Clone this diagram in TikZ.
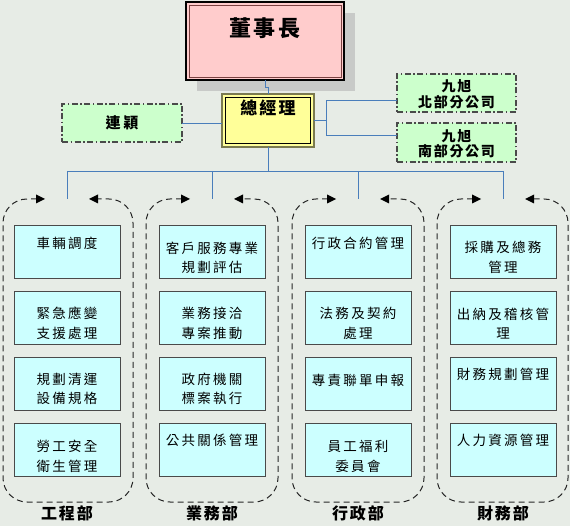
\documentclass[tikz,border=0pt]{standalone}
\usepackage{fontspec}
\newfontfamily\cjk[LetterSpace=17]{Noto Sans CJK TC}
\newfontfamily\cjkt[LetterSpace=12]{Noto Sans CJK TC}
\usetikzlibrary{arrows.meta}
\definecolor{bg}{HTML}{E7ECE6}
\definecolor{pinkfill}{HTML}{FFCCCC}
\definecolor{yellowfill}{HTML}{FFFF99}
\definecolor{greenfill}{HTML}{CCFFCC}
\definecolor{cyanfill}{HTML}{CCFFFF}
\definecolor{boxline}{HTML}{4A4A4A}
\definecolor{conn}{HTML}{4A7EBB}
\definecolor{shadowgray}{HTML}{C8CAC8}
\definecolor{maroon}{HTML}{7A4040}
\definecolor{olive}{HTML}{7A7A50}
\newcommand\ubox[4]{%
  \node[unit, anchor=north west] (#1) at #2 {};
  \node[utext] (#1t) at ([yshift=#3]#1.center) {#4};
}
\begin{document}
\begin{tikzpicture}[x=1pt,y=-1pt,
  unit/.style={draw=boxline, fill=cyanfill, line width=0.9pt, minimum width=106pt, minimum height=53pt, inner sep=0pt, outer sep=0pt},
  utext/.style={font=\fontsize{13.5}{19.5}\selectfont\cjk, align=center, inner sep=0pt},
  greenbox/.style={draw=boxline, fill=greenfill, line width=1.1pt, dash pattern=on 6pt off 2.5pt on 1.5pt off 2.5pt, inner sep=0pt, outer sep=0pt},
  conn/.style={draw=conn, line width=0.9pt},
  deptline/.style={draw=black!85, line width=1pt, dash pattern=on 6pt off 4pt, rounded corners=24pt},
  tip/.style={fill=black, draw=none},
  deptlabel/.style={font=\fontsize{16}{18}\selectfont\cjkt\bfseries, inner sep=0pt}
]
\fill[bg] (0,0) rectangle (570,526);
\useasboundingbox (0,0) rectangle (570,526);

% chairman
\fill[shadowgray] (197,13) rectangle (355,91);
\node[draw=black, fill=pinkfill, line width=1.5pt, minimum width=158pt, minimum height=78pt, anchor=north west, inner sep=0pt, outer sep=0pt] (chair) at (186,2) {};
\draw[maroon, line width=0.9pt] ([shift={(3pt,-3pt)}]chair.north west) rectangle ([shift={(-3pt,3pt)}]chair.south east);
\node[font=\fontsize{22}{24}\selectfont\cjkt\bfseries, inner sep=0pt] (chairt) at ([yshift=-26pt]chair.north) {董事長};

% general manager
\node[draw=olive, fill=yellowfill, line width=1.8pt, minimum width=92pt, minimum height=53pt, anchor=north west, inner sep=0pt, outer sep=0pt] (gm) at (222,94) {};
\draw[black, line width=0.9pt] ([shift={(3.5pt,-3.5pt)}]gm.north west) rectangle ([shift={(-3.5pt,3.5pt)}]gm.south east);
\node[font=\fontsize{17}{19}\selectfont\cjkt\bfseries, inner sep=0pt] (gmt) at ([yshift=-14pt]gm.north) {總經理};

\draw[conn] (chair.south) -- ++(0,7) -| (gm.north);

% left advisor
\node[greenbox, minimum width=120pt, minimum height=38pt, anchor=north west] (lian) at (62,104) {};
\node[font=\fontsize{15}{17}\selectfont\cjk\bfseries, inner sep=0pt] (liant) at (lian.center) {連穎};
\draw[conn] (lian.east) -- (lian.east -| gm.west);

% branches
\node[greenbox, minimum width=119pt, minimum height=38pt, anchor=north west] (north) at (397,74) {};
\node[font=\fontsize{14}{15.5}\selectfont\cjkt\bfseries, align=center, inner sep=0pt] (northt) at ([yshift=-1pt]north.center) {九旭\\北部分公司};
\node[greenbox, minimum width=119pt, minimum height=39pt, anchor=north west] (south) at (397,123) {};
\node[font=\fontsize{14}{15.5}\selectfont\cjkt\bfseries, align=center, inner sep=0pt] (southt) at ([yshift=-1pt]south.center) {九旭\\南部分公司};
\coordinate (rj) at (326,120.5);
\coordinate (rn) at (326,100);
\coordinate (rs) at (326,135);
\draw[conn] (gm.east |- rj) -- (rj);
\draw[conn] (rn -| north.west) -- (rn) -- (rs) -- (rs -| south.west);

% bus
\coordinate (b1) at (67,171);
\coordinate (b2) at (212,171);
\coordinate (b3) at (358,171);
\coordinate (b4) at (503,171);
\coordinate (g1) at (67,199);
\coordinate (g2) at (212,199);
\coordinate (g3) at (358,199);
\coordinate (g4) at (503,199);
\draw[conn] (gm.south) -- (gm.south |- b1);
\draw[conn] (b1) -- (b4);
\draw[conn] (b1) -- (g1);
\draw[conn] (b2) -- (g2);
\draw[conn] (b3) -- (g3);
\draw[conn] (b4) -- (g4);

% department frames with filled arrow heads
\foreach \L/\R/\a/\b in {3/133/45/89, 146/278/190/234, 292/424/336/380, 437/568/481/525}{
  \draw[deptline] (\a-8,199) -- (\L,199) -- (\L,502) -- (\R,502) -- (\R,199) -- (\b+8,199);
  \fill[tip] (\a,199) -- (\a-9,194.5) -- (\a-9,203.5) -- cycle;
  \fill[tip] (\b,199) -- (\b+9,194.5) -- (\b+9,203.5) -- cycle;
}

\node[deptlabel] (d1) at (67,513) {工程部};
\node[deptlabel] (d2) at (212,513) {業務部};
\node[deptlabel] (d3) at (358,513) {行政部};
\node[deptlabel] (d4) at (503,513) {財務部};

% units
\ubox{a1}{(14,225)}{8.5pt}{車輛調度}
\ubox{a2}{(14,291)}{-6pt}{緊急應變\\支援處理}
\ubox{a3}{(14,357)}{-5.5pt}{規劃清運\\設備規格}
\ubox{a4}{(14,423)}{-7pt}{勞工安全\\衛生管理}

\ubox{c1}{(159,225)}{-6.5pt}{客戶服務專業\\規劃評估}
\ubox{c2}{(159,291)}{-6pt}{業務接洽\\專案推動}
\ubox{c3}{(159,357)}{-5.5pt}{政府機關\\標案執行}
\ubox{c4}{(159,423)}{9.5pt}{公共關係管理}

\ubox{e1}{(305,225)}{8.5pt}{行政合約管理}
\ubox{e2}{(305,291)}{-6pt}{法務及契約\\處理}
\ubox{e3}{(305,357)}{3.5pt}{專責聯單申報}
\ubox{e4}{(305,423)}{-7pt}{員工福利\\委員會}

\ubox{f1}{(450,225)}{-6pt}{採購及總務\\管理}
\ubox{f2}{(450,291)}{-6pt}{出納及稽核管\\理}
\ubox{f3}{(450,357)}{9.5pt}{財務規劃管理}
\ubox{f4}{(450,423)}{9.5pt}{人力資源管理}
\end{tikzpicture}
\end{document}
